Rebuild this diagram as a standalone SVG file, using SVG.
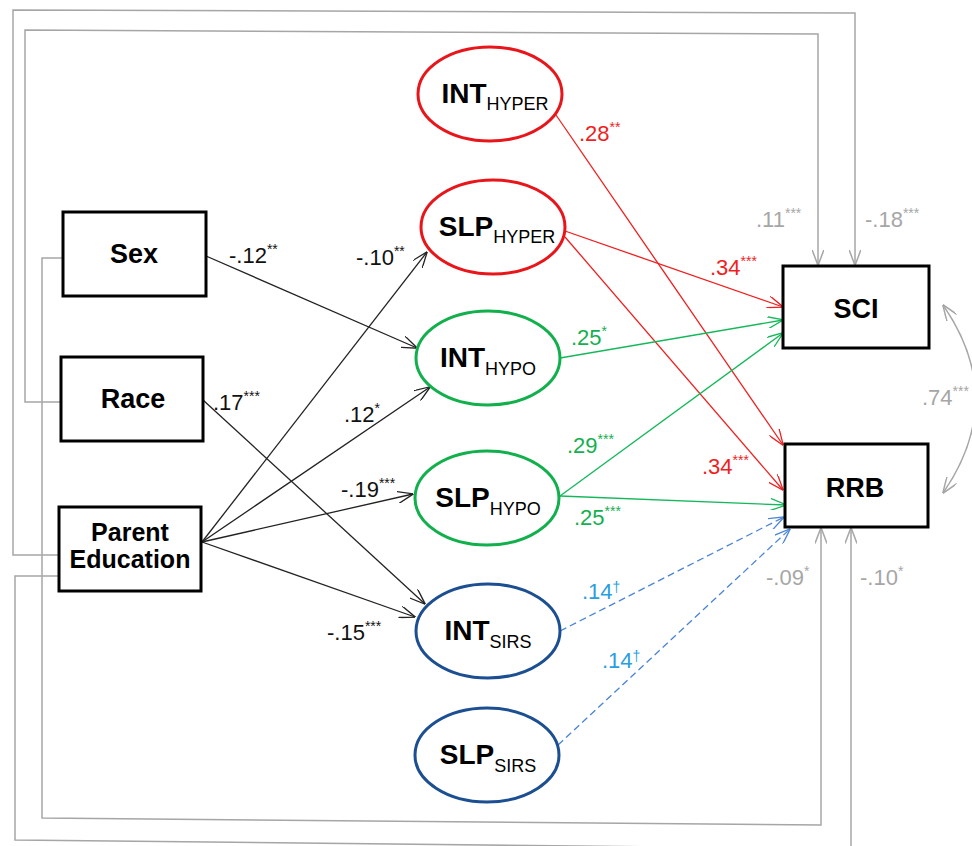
<svg xmlns="http://www.w3.org/2000/svg" width="972" height="846" viewBox="0 0 972 846">
<style>
text{font-family:"Liberation Sans",Arial,sans-serif}
.box{fill:#fff;stroke:#000;stroke-width:3}
.bl{font-weight:bold;font-size:27px;text-anchor:middle;fill:#000}
.lat{font-weight:bold;font-size:28px;text-anchor:middle;fill:#000}
.sub{font-weight:normal;font-size:18px}
.red{stroke:#e8161b}
.grn{stroke:#12b04c}
.blu{stroke:#1c4f92}
.el{fill:#fff;stroke-width:3}
.c{fill:none;stroke-width:1.3}
.k{stroke:#222}
.r{stroke:#f01e1e}
.g{stroke:#14b85a}
.b{stroke:#4a84d6;stroke-dasharray:7 4}
.gy{stroke:#a6a6a6;stroke-width:1.5;fill:none}
.lb{font-size:22px}
.st{font-size:14px}
.tk{fill:#111}
.tr{fill:#f01e1e}
.tg{fill:#14b050}
.tb{fill:#2a9fe0}
.tgy{fill:#a6a6a6}
</style>
<defs>
<marker id="ak" viewBox="0 0 16 12" refX="15.5" refY="6" markerWidth="16" markerHeight="12" markerUnits="userSpaceOnUse" orient="auto"><path d="M0,0 L16,6 L0,12" fill="none" stroke="#222" stroke-width="1.3"/></marker>
<marker id="ar" viewBox="0 0 16 12" refX="15.5" refY="6" markerWidth="16" markerHeight="12" markerUnits="userSpaceOnUse" orient="auto"><path d="M0,0 L16,6 L0,12" fill="none" stroke="#f01e1e" stroke-width="1.3"/></marker>
<marker id="ag" viewBox="0 0 16 12" refX="15.5" refY="6" markerWidth="16" markerHeight="12" markerUnits="userSpaceOnUse" orient="auto"><path d="M0,0 L16,6 L0,12" fill="none" stroke="#14b85a" stroke-width="1.3"/></marker>
<marker id="ab" viewBox="0 0 16 12" refX="15.5" refY="6" markerWidth="16" markerHeight="12" markerUnits="userSpaceOnUse" orient="auto"><path d="M0,0 L16,6 L0,12" fill="none" stroke="#4a84d6" stroke-width="1.3"/></marker>
<marker id="agy" viewBox="0 0 16 12" refX="15.5" refY="6" markerWidth="16" markerHeight="12" markerUnits="userSpaceOnUse" orient="auto-start-reverse"><path d="M0,0 L16,6 L0,12" fill="none" stroke="#a6a6a6" stroke-width="1.5"/></marker>
</defs>
<rect width="972" height="846" fill="#fff"/>
<g id="connectors">
<path class="gy" d="M61,402 H25 V30 L818,34 V265" marker-end="url(#agy)"/>
<path class="gy" d="M59,555 H13 V10 L855,13 V265" marker-end="url(#agy)"/>
<path class="gy" d="M63,258 H42 V818 L821,825 V528" marker-end="url(#agy)"/>
<path class="gy" d="M59,576 H15 V840 L851,849 V528" marker-end="url(#agy)"/>
<path class="gy" d="M943,305 Q1008,399 943,493" marker-start="url(#agy)" marker-end="url(#agy)"/>
<line class="c k" x1="206" y1="256" x2="417" y2="348" marker-end="url(#ak)"/>
<line class="c k" x1="203" y1="400" x2="425" y2="604" marker-end="url(#ak)"/>
<line class="c k" x1="202" y1="542" x2="427" y2="252" marker-end="url(#ak)"/>
<line class="c k" x1="202" y1="542" x2="430" y2="387" marker-end="url(#ak)"/>
<line class="c k" x1="202" y1="542" x2="413" y2="494" marker-end="url(#ak)"/>
<line class="c k" x1="202" y1="542" x2="415" y2="617" marker-end="url(#ak)"/>
<line class="c r" x1="556" y1="115" x2="783" y2="445" marker-end="url(#ar)"/>
<line class="c r" x1="565" y1="231" x2="783" y2="307" marker-end="url(#ar)"/>
<line class="c r" x1="565" y1="237" x2="783" y2="490" marker-end="url(#ar)"/>
<line class="c g" x1="560" y1="358" x2="783" y2="320" marker-end="url(#ag)"/>
<line class="c g" x1="560" y1="496" x2="783" y2="333" marker-end="url(#ag)"/>
<line class="c g" x1="560" y1="496" x2="786" y2="505" marker-end="url(#ag)"/>
<line class="c b" x1="560" y1="631" x2="784" y2="517" marker-end="url(#ab)"/>
<line class="c b" x1="558" y1="745" x2="790" y2="529" marker-end="url(#ab)"/>
</g>
<g id="labels">
<text class="lb tk" x="229" y="263">-.12<tspan class="st" dy="-9">**</tspan></text>
<text class="lb tk" x="213" y="410">.17<tspan class="st" dy="-9">***</tspan></text>
<text class="lb tk" x="356" y="265">-.10<tspan class="st" dy="-9">**</tspan></text>
<text class="lb tk" x="344" y="422">.12<tspan class="st" dy="-9">*</tspan></text>
<text class="lb tk" x="341" y="497">-.19<tspan class="st" dy="-9">***</tspan></text>
<text class="lb tk" x="327" y="640">-.15<tspan class="st" dy="-9">***</tspan></text>
<text class="lb tr" x="579" y="141">.28<tspan class="st" dy="-9">**</tspan></text>
<text class="lb tr" x="710" y="275">.34<tspan class="st" dy="-9">***</tspan></text>
<text class="lb tr" x="702" y="474">.34<tspan class="st" dy="-9">***</tspan></text>
<text class="lb tg" x="571" y="345">.25<tspan class="st" dy="-9">*</tspan></text>
<text class="lb tg" x="567" y="453">.29<tspan class="st" dy="-9">***</tspan></text>
<text class="lb tg" x="574" y="525">.25<tspan class="st" dy="-9">***</tspan></text>
<text class="lb tb" x="582" y="599">.14<tspan class="st" dy="-7">†</tspan></text>
<text class="lb tb" x="602" y="668">.14<tspan class="st" dy="-7">†</tspan></text>
<text class="lb tgy" x="756" y="227">.11<tspan class="st" dy="-9">***</tspan></text>
<text class="lb tgy" x="865" y="227">-.18<tspan class="st" dy="-9">***</tspan></text>
<text class="lb tgy" x="922" y="405">.74<tspan class="st" dy="-9">***</tspan></text>
<text class="lb tgy" x="766" y="585">-.09<tspan class="st" dy="-9">*</tspan></text>
<text class="lb tgy" x="860" y="585">-.10<tspan class="st" dy="-9">*</tspan></text>
</g>
<g id="sex"><rect class="box" x="63" y="212" width="143" height="84"/><text class="bl" x="134" y="263">Sex</text></g>
<g id="race"><rect class="box" x="61" y="357" width="142" height="84"/><text class="bl" x="133" y="408">Race</text></g>
<g id="parent-education"><rect class="box" x="59" y="507" width="142" height="84"/><text class="bl" style="font-size:25px" x="130" y="541">Parent</text><text class="bl" style="font-size:25px" x="130" y="568">Education</text></g>
<g id="sci"><rect class="box" x="783" y="266" width="146" height="82"/><text class="bl" x="856" y="318">SCI</text></g>
<g id="rrb"><rect class="box" x="785" y="444" width="143" height="83"/><text class="bl" x="855" y="497">RRB</text></g>
<g id="int-hyper"><ellipse class="el red" cx="490" cy="94" rx="72" ry="47"/><text class="lat" x="495" y="103">INT<tspan class="sub" dy="7">HYPER</tspan></text></g>
<g id="slp-hyper"><ellipse class="el red" cx="493" cy="227" rx="72" ry="47"/><text class="lat" x="497" y="236">SLP<tspan class="sub" dy="7">HYPER</tspan></text></g>
<g id="int-hypo"><ellipse class="el grn" cx="488" cy="358" rx="72" ry="47"/><text class="lat" x="488" y="367">INT<tspan class="sub" dy="8">HYPO</tspan></text></g>
<g id="slp-hypo"><ellipse class="el grn" cx="487" cy="498" rx="72" ry="47"/><text class="lat" x="488" y="507">SLP<tspan class="sub" dy="8">HYPO</tspan></text></g>
<g id="int-sirs"><ellipse class="el blu" cx="488" cy="631" rx="72" ry="47"/><text class="lat" x="488" y="640">INT<tspan class="sub" dy="8">SIRS</tspan></text></g>
<g id="slp-sirs"><ellipse class="el blu" cx="487" cy="755" rx="72" ry="47"/><text class="lat" x="488" y="764">SLP<tspan class="sub" dy="8">SIRS</tspan></text></g>
</svg>
